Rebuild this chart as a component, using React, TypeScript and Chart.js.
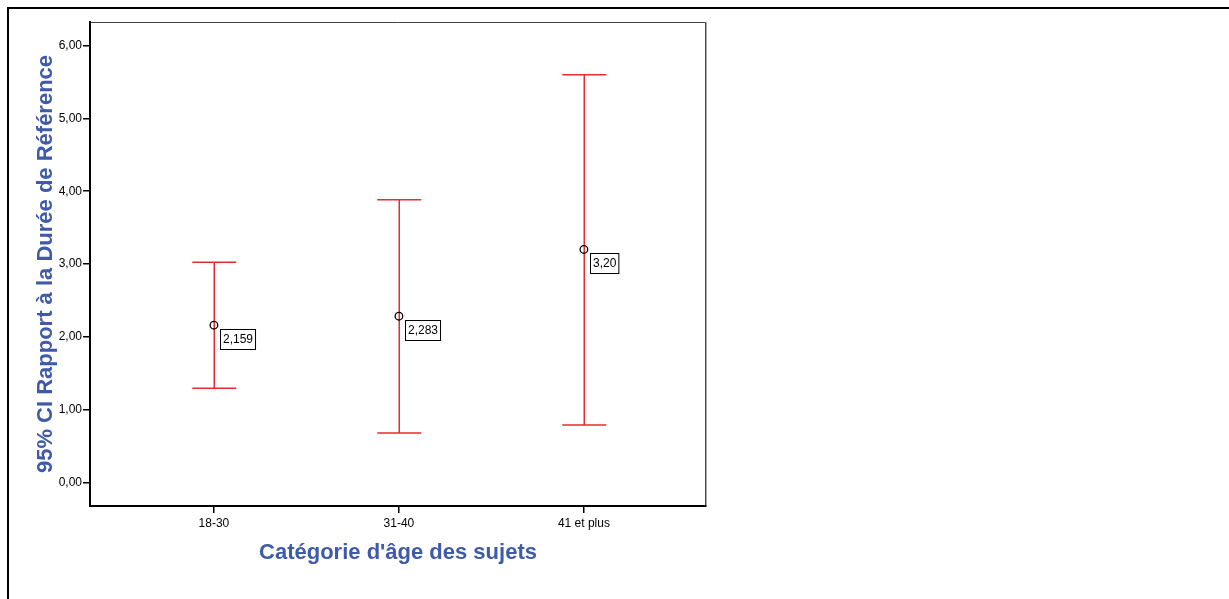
import React, { useEffect, useRef } from "react";
import { Chart, registerables } from "chart.js";

Chart.register(...registerables);

const categories = ["18-30", "31-40", "41 et plus"];
const means = [2.159, 2.283, 3.2];
const meanLabels = ["2,159", "2,283", "3,20"];
const upperCI = [3.023, 3.883, 5.601];
const lowerCI = [1.292, 0.678, 0.787];
const yTicks = [0, 1, 2, 3, 4, 5, 6];
const xTicks = [0, 1, 2];

const BLUE = "#3f5aa9";
const RED = "#ea2a30";

export default function App() {
  const ref = useRef<HTMLCanvasElement | null>(null);

  useEffect(() => {
    const canvas = ref.current;
    if (!canvas) return;

    const framePlugin = {
      id: "frame",
      beforeDraw(chart: any) {
        const ctx = chart.ctx;
        ctx.save();
        ctx.fillStyle = "#ffffff";
        ctx.fillRect(0, 0, chart.width, chart.height);
        ctx.fillStyle = "#000000";
        ctx.fillRect(7, 7, chart.width - 7, 2);
        ctx.fillRect(7, 7, 2, chart.height - 7);
        const a = chart.chartArea;
        ctx.strokeStyle = "#444444";
        ctx.lineWidth = 1;
        ctx.beginPath();
        ctx.moveTo(a.left, a.top + 0.5);
        ctx.lineTo(a.right - 0.5, a.top + 0.5);
        ctx.lineTo(a.right - 0.5, a.bottom);
        ctx.stroke();
        ctx.strokeStyle = "#aaaaaa";
        ctx.beginPath();
        ctx.moveTo(a.right + 0.5, a.top);
        ctx.lineTo(a.right + 0.5, a.bottom);
        ctx.stroke();
        ctx.restore();
      },
    };

    const errorBarPlugin = {
      id: "errorBars",
      afterDatasetsDraw(chart: any) {
        const ctx = chart.ctx;
        const xs = chart.scales.x;
        const ys = chart.scales.y;
        ctx.save();
        ctx.strokeStyle = RED;
        ctx.lineWidth = 1.5;
        categories.forEach((_, i) => {
          const x = Math.round(xs.getPixelForValue(i)) + 0.25;
          const yu = ys.getPixelForValue(upperCI[i]);
          const yl = ys.getPixelForValue(lowerCI[i]);
          ctx.beginPath();
          ctx.moveTo(x, yu);
          ctx.lineTo(x, yl);
          ctx.moveTo(x - 22, yu);
          ctx.lineTo(x + 22, yu);
          ctx.moveTo(x - 22, yl);
          ctx.lineTo(x + 22, yl);
          ctx.stroke();
        });
        // mean markers
        ctx.strokeStyle = "#000000";
        ctx.lineWidth = 1.3;
        means.forEach((m, i) => {
          const x = xs.getPixelForValue(i);
          const y = ys.getPixelForValue(m);
          ctx.beginPath();
          ctx.arc(x, y, 3.8, 0, Math.PI * 2);
          ctx.stroke();
        });
        // labels
        ctx.font = "12px Arial, 'Liberation Sans', sans-serif";
        ctx.textBaseline = "middle";
        ctx.textAlign = "left";
        means.forEach((m, i) => {
          const x = xs.getPixelForValue(i);
          const y = ys.getPixelForValue(m);
          const t = meanLabels[i];
          const w = ctx.measureText(t).width + 5;
          const bx = Math.round(x + 6) + 0.5;
          const by = Math.round(y + 4) + 0.5;
          ctx.fillStyle = "#ffffff";
          ctx.fillRect(bx, by, w, 20);
          ctx.strokeStyle = "#000000";
          ctx.lineWidth = 1;
          ctx.strokeRect(bx, by, w, 20);
          ctx.fillStyle = "#000000";
          ctx.fillText(t, bx + 2.5, by + 10.5);
        });
        ctx.restore();
      },
    };

    const chart = new Chart(canvas, {
      type: "scatter",
      data: {
        datasets: [
          {
            label: "Moyenne",
            data: means.map((m, i) => ({ x: i, y: m })),
            pointRadius: 0,
            showLine: false,
          },
        ],
      },
      options: {
        animation: false,
        responsive: false,
        maintainAspectRatio: false,
        events: [],
        layout: { padding: { left: 0, top: 22, right: 523, bottom: 0 } },
        plugins: {
          legend: { display: false },
          tooltip: { enabled: false },
        },
        scales: {
          x: {
            type: "linear",
            min: -0.67,
            max: 2.66,
            afterBuildTicks: (s: any) => {
              s.ticks = xTicks.map((v) => ({ value: v }));
            },
            afterFit: (s: any) => {
              s.height = 93;
            },
            grid: {
              drawOnChartArea: false,
              drawTicks: true,
              tickLength: 7,
              color: "#000000",
              lineWidth: 1.5,
            },
            border: { display: true, color: "#000000", width: 2 },
            ticks: {
              autoSkip: false,
              maxRotation: 0,
              padding: 3,
              color: "#000000",
              font: { family: "Arial, 'Liberation Sans', sans-serif", size: 12 },
              callback: (v: any) => categories[Number(v)] ?? "",
            },
            title: {
              display: true,
              text: "Catégorie d'âge des sujets",
              color: BLUE,
              font: { family: "Arial, 'Liberation Sans', sans-serif", size: 22, weight: "bold" },
              padding: { top: 0, bottom: 33 },
            },
          },
          y: {
            type: "linear",
            min: -0.325,
            max: 6.325,
            afterBuildTicks: (s: any) => {
              s.ticks = yTicks.map((v) => ({ value: v }));
            },
            afterFit: (s: any) => {
              s.width = 90;
            },
            grid: {
              drawOnChartArea: false,
              drawTicks: true,
              tickLength: 7,
              color: "#000000",
              lineWidth: 1.5,
            },
            border: { display: true, color: "#000000", width: 2 },
            ticks: {
              padding: 1,
              color: "#000000",
              font: { family: "Arial, 'Liberation Sans', sans-serif", size: 12 },
              callback: (v: any) => Number(v).toFixed(2).replace(".", ","),
            },
            title: {
              display: true,
              text: "95% CI Rapport à la Durée de Référence",
              color: BLUE,
              font: { family: "Arial, 'Liberation Sans', sans-serif", size: 22, weight: "bold" },
              padding: { top: 33, bottom: 0 },
            },
          },
        },
      },
      plugins: [framePlugin, errorBarPlugin],
    } as any);

    return () => chart.destroy();
  }, []);

  return (
    <div style={{ position: "fixed", left: 0, top: 0, width: 1229, height: 599, background: "#fff" }}>
      <canvas ref={ref} width={1229} height={599} style={{ display: "block", width: 1229, height: 599 }} />
    </div>
  );
}
